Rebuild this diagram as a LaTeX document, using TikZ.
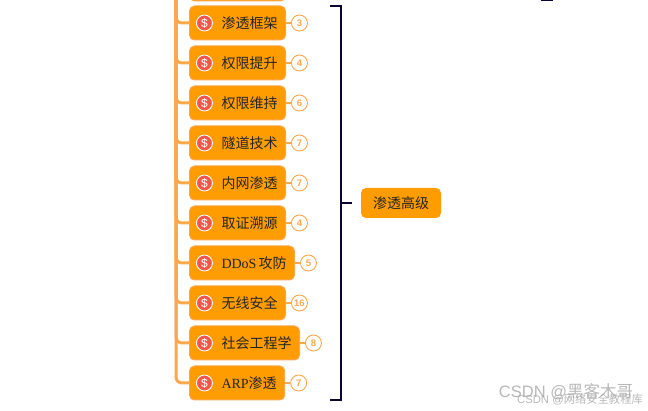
\documentclass[tikz,border=0pt]{standalone}
\usepackage{fontspec}
\usepackage{tikz}
\usetikzlibrary{positioning}
\setmainfont{Liberation Serif}
\setsansfont{Liberation Sans}
\newfontfamily\cjk{Noto Sans CJK SC}
\definecolor{topicfill}{HTML}{FF9C00}
\definecolor{topicline}{HTML}{F9A84F}
\definecolor{coinred}{HTML}{F5564A}
\definecolor{bracketnavy}{HTML}{0B0630}

\begin{document}
\begin{tikzpicture}[
                x=1pt, y=-1pt,
                topic/.style={rectangle, rounded corners=5pt, draw=topicline, line width=1pt, fill=topicfill, anchor=west, minimum height=34pt, inner xsep=8pt, inner ysep=0pt, font=\cjk\fontsize{14}{14}\selectfont, text=black!85},
                root/.style={rectangle, rounded corners=5pt, fill=topicfill, minimum width=80pt, minimum height=30pt, inner sep=0pt, font=\cjk\fontsize{14}{14}\selectfont, text=black!85},
                coin/.style={circle, draw=white, line width=0.9pt, fill=coinred, minimum size=16pt, inner sep=0pt, text=white, font=\sffamily\fontsize{12}{12}\selectfont},
                count/.style={circle, draw=topicline, line width=0.9pt, fill=white, minimum size=16pt, inner sep=0pt, text=topicline, font=\sffamily\bfseries\fontsize{9.5}{9.5}\selectfont},
                link/.style={draw=topicline, line width=1.6pt},
                branch/.style={draw=topicline, line width=3pt, rounded corners=6pt},
                bracket/.style={draw=bracketnavy, line width=2pt}
                ]
                \useasboundingbox (0,0) rectangle (648,411);
                \clip (0,0) rectangle (648,411);

                % Branches
                \coordinate (trunk) at (176,-5);
                \node[topic, minimum width=96pt] (above) at (189,-16) {};
                \node[topic] (kuangjia) at (189,23) {\hspace{24pt}渗透框架};
                \node[topic] (tisheng) at (189,63) {\hspace{24pt}权限提升};
                \node[topic] (weichi) at (189,103) {\hspace{24pt}权限维持};
                \node[topic] (suidao) at (189,143) {\hspace{24pt}隧道技术};
                \node[topic] (neiwang) at (189,183) {\hspace{24pt}内网渗透};
                \node[topic] (quzheng) at (189,223) {\hspace{24pt}取证溯源};
                \node[topic] (ddos) at (189,263) {\hspace{24pt}{\rmfamily DDoS}\hspace{2pt}攻防};
                \node[topic] (wuxian) at (189,303) {\hspace{24pt}无线安全};
                \node[topic] (shehui) at (189,343) {\hspace{24pt}社会工程学};
                \node[topic] (arp) at (189,383) {\hspace{24pt}{\rmfamily ARP}渗透};

                % Trunk to each topic
                \draw[branch] (trunk) |- (kuangjia.west);
                \draw[branch] (trunk) |- (tisheng.west);
                \draw[branch] (trunk) |- (weichi.west);
                \draw[branch] (trunk) |- (suidao.west);
                \draw[branch] (trunk) |- (neiwang.west);
                \draw[branch] (trunk) |- (quzheng.west);
                \draw[branch] (trunk) |- (ddos.west);
                \draw[branch] (trunk) |- (wuxian.west);
                \draw[branch] (trunk) |- (shehui.west);
                \draw[branch] (trunk) |- (arp.west);

                % Coin icons
                \node[coin, right=7pt of kuangjia.west] (coin1) {\$};
                \node[coin, right=7pt of tisheng.west] (coin2) {\$};
                \node[coin, right=7pt of weichi.west] (coin3) {\$};
                \node[coin, right=7pt of suidao.west] (coin4) {\$};
                \node[coin, right=7pt of neiwang.west] (coin5) {\$};
                \node[coin, right=7pt of quzheng.west] (coin6) {\$};
                \node[coin, right=7pt of ddos.west] (coin7) {\$};
                \node[coin, right=7pt of wuxian.west] (coin8) {\$};
                \node[coin, right=7pt of shehui.west] (coin9) {\$};
                \node[coin, right=7pt of arp.west] (coin10) {\$};

                % Count badges
                \node[count, right=5pt of kuangjia] (count1) {3};
                \node[count, right=5pt of tisheng] (count2) {4};
                \node[count, right=5pt of weichi] (count3) {6};
                \node[count, right=5pt of suidao] (count4) {7};
                \node[count, right=5pt of neiwang] (count5) {7};
                \node[count, right=5pt of quzheng] (count6) {4};
                \node[count, right=5pt of ddos] (count7) {5};
                \node[count, right=5pt of wuxian] (count8) {16};
                \node[count, right=5pt of shehui] (count9) {8};
                \node[count, right=5pt of arp] (count10) {7};
                \draw[link] (kuangjia) -- (count1);
                \draw[link] (tisheng) -- (count2);
                \draw[link] (weichi) -- (count3);
                \draw[link] (suidao) -- (count4);
                \draw[link] (neiwang) -- (count5);
                \draw[link] (quzheng) -- (count6);
                \draw[link] (ddos) -- (count7);
                \draw[link] (wuxian) -- (count8);
                \draw[link] (shehui) -- (count9);
                \draw[link] (arp) -- (count10);

                % Bracket and root
                \node[root] (gaoji) at (401,203) {渗透高级};
                \coordinate (bracktop) at (330,6);
                \coordinate (brackbot) at (330,400);
                \coordinate (brackmid) at (341,203);
                \coordinate (stubleft) at (541,0);
                \coordinate (stubright) at (553,0);
                \draw[bracket] (bracktop) -- (341,6) -- (341,400) -- (brackbot);
                \draw[bracket] (brackmid) -- (352,203);
                \draw[bracket] (stubleft) -- (stubright);

                % Watermark
                \node[font=\sffamily\fontsize{16.5}{16.5}\selectfont, text=black!35, opacity=0.8] (mark1) at (566,392) {CSDN @{\cjk 黑客木哥}};
                \node[font=\sffamily\fontsize{11.3}{11.3}\selectfont, text=black!35, opacity=0.8] (mark2) at (580,399) {CSDN @{\cjk 网络安全教程库}};
                \end{tikzpicture}
\end{document}
